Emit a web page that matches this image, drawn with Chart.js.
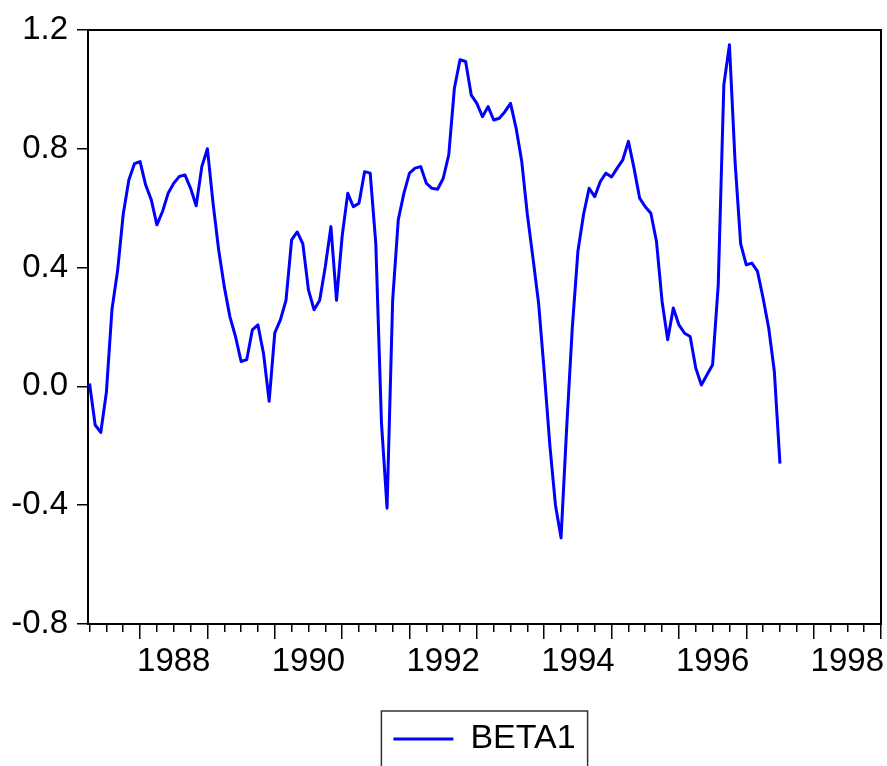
<!DOCTYPE html>
<html>
<head>
<meta charset="utf-8">
<script src="https://cdn.jsdelivr.net/npm/chart.js@4.4.0/dist/chart.umd.min.js"></script>
<style>
  html, body { margin: 0; padding: 0; background: #fff; }
</style>
</head>
<body>
<canvas id="betaChart" width="887" height="766"></canvas>
<script>
// monthly observations, first one is April 1987
const startYear = 1987;
const startMonth = 4;
const beta1 = [
  0.01, -0.13, -0.155, -0.02, 0.26, 0.39, 0.58, 0.695, 0.75,
  0.757, 0.678, 0.628, 0.544, 0.589, 0.65, 0.684, 0.707, 0.712, 0.667, 0.608, 0.74,
  0.80, 0.617, 0.46, 0.336, 0.235, 0.168, 0.084, 0.09, 0.19, 0.207, 0.11, -0.05,
  0.18, 0.224, 0.29, 0.493, 0.52, 0.48, 0.325, 0.258, 0.29, 0.403, 0.538, 0.29,
  0.505, 0.65, 0.605, 0.617, 0.723, 0.718, 0.48, -0.12, -0.41, 0.29, 0.561, 0.65,
  0.718, 0.735, 0.74, 0.684, 0.667, 0.664, 0.70, 0.78, 1.004, 1.10, 1.094, 0.981,
  0.953, 0.908, 0.942, 0.897, 0.903, 0.925, 0.953, 0.869, 0.757, 0.578, 0.432, 0.28,
  0.05, -0.197, -0.399, -0.51, -0.14, 0.196, 0.454, 0.578, 0.667, 0.639, 0.69, 0.718,
  0.705, 0.735, 0.763, 0.825, 0.735, 0.634, 0.605, 0.583, 0.488, 0.286, 0.157, 0.264,
  0.207, 0.179, 0.168, 0.062, 0.005, 0.039, 0.073, 0.34, 1.015, 1.15, 0.757, 0.48,
  0.409, 0.415, 0.387, 0.297, 0.196, 0.05, -0.26
];
const yTicks = [-0.8, -0.4, 0.0, 0.4, 0.8, 1.2];
const xLabelYears = [1988, 1990, 1992, 1994, 1996, 1998];
const xRange = [1987.227, 1999];

const points = beta1.map((v, i) => ({ x: startYear + (startMonth - 1 + i) / 12, y: v }));

const axisFont = { family: '"Liberation Sans", Arial, sans-serif', size: 33 };
const frame = { color: '#000', width: 2 };

// EViews-like box round the single legend entry
const legendFrame = {
  id: 'legendFrame',
  afterDraw(chart) {
    const lg = chart.legend;
    if (!lg || !lg.legendHitBoxes || !lg.legendHitBoxes.length) return;
    const hb = lg.legendHitBoxes[0];
    const ctx = chart.ctx;
    ctx.save();
    ctx.strokeStyle = '#333';
    ctx.lineWidth = 1.5;
    ctx.strokeRect(hb.left - 12, hb.top + hb.height / 2 - 28, hb.width + 24, 60);
    ctx.restore();
  }
};

new Chart(document.getElementById('betaChart'), {
  type: 'line',
  data: {
    datasets: [{
      label: 'BETA1',
      data: points,
      borderColor: '#0000ff',
      backgroundColor: '#0000ff',
      borderWidth: 3,
      borderJoinStyle: 'round',
      pointRadius: 0,
      tension: 0,
      fill: false
    }]
  },
  options: {
    responsive: false,
    animation: false,
    layout: { padding: { top: 30, right: 6, left: 0, bottom: 0 } },
    plugins: {
      tooltip: { enabled: false },
      legend: {
        position: 'bottom',
        fullSize: false,
        labels: {
          usePointStyle: true,
          pointStyle: 'line',
          pointStyleWidth: 60,
          padding: 10,
          color: '#000',
          font: { family: '"Liberation Sans", Arial, sans-serif', size: 34 }
        }
      }
    },
    scales: {
      x: {
        type: 'linear',
        min: xRange[0],
        max: xRange[1],
        afterBuildTicks: s => {
          const t = [];
          for (let q = Math.ceil(xRange[0] * 4); q <= xRange[1] * 4; q++) t.push({ value: q / 4 });
          s.ticks = t;
        },
        afterFit: s => { s.height = 88; },
        ticks: {
          autoSkip: false, maxRotation: 0, minRotation: 0, padding: 3,
          color: '#000', font: axisFont,
          callback: v => {
            const yr = Math.floor(v);
            return (v - yr === 0.5 && xLabelYears.includes(yr)) ? String(yr) : '';
          }
        },
        grid: {
          drawOnChartArea: false, color: '#000', lineWidth: 1.5, tickLength: 15,
          tickBorderDash: c => Number.isInteger(c.tick.value) ? [] : [7, 40]
        },
        border: frame
      },
      y: {
        min: -0.8,
        max: 1.2,
        afterBuildTicks: s => { s.ticks = yTicks.map(v => ({ value: v })); },
        afterFit: s => { s.width = 88; },
        ticks: { padding: 9, color: '#000', font: axisFont, callback: v => v.toFixed(1) },
        grid: { drawOnChartArea: false, color: '#000', lineWidth: 1.5, tickLength: 11 },
        border: frame
      },
      xTop: {
        type: 'linear', position: 'top', min: xRange[0], max: xRange[1],
        grid: { display: false, drawTicks: false }, ticks: { display: false },
        border: frame,
        afterFit: s => { s.height = 0; }
      },
      yRight: {
        type: 'linear', position: 'right', min: -0.8, max: 1.2,
        grid: { display: false, drawTicks: false }, ticks: { display: false },
        border: frame,
        afterFit: s => { s.width = 0; }
      }
    }
  },
  plugins: [legendFrame]
});
</script>
</body>
</html>
